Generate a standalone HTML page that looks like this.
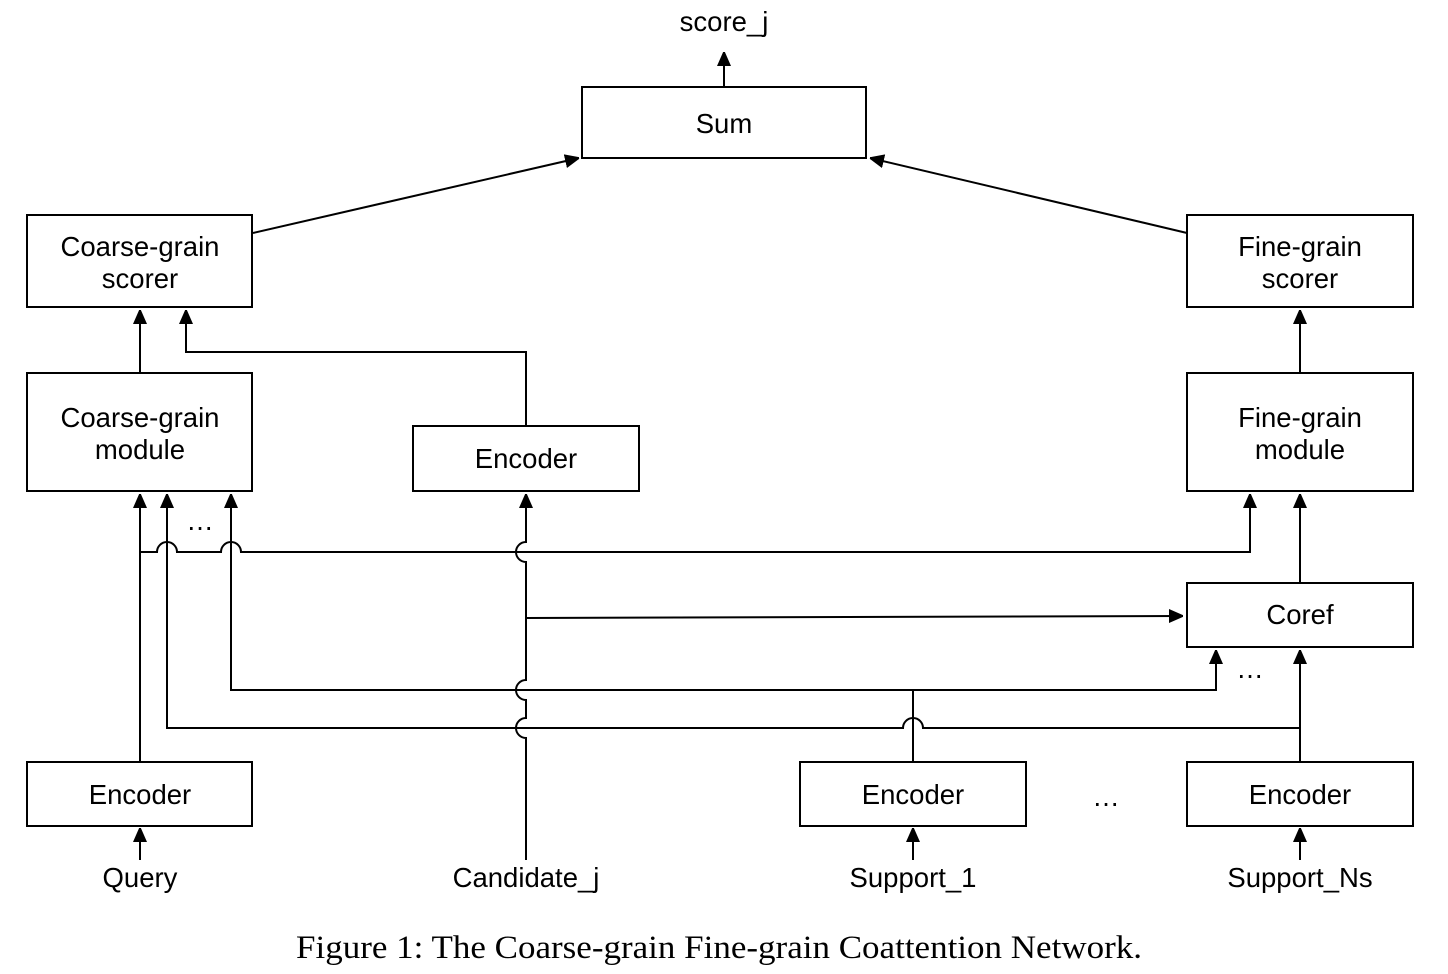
<!DOCTYPE html><html><head><style>body{margin:0;background:#fff}svg{display:block}
text{font-family:"Liberation Sans",sans-serif;font-size:27.5px;fill:#000}</style></head><body>
<svg width="1448" height="974" viewBox="0 0 1448 974">
<defs><marker id="a" markerWidth="14" markerHeight="16" refX="14" refY="7" orient="auto" markerUnits="userSpaceOnUse"><path d="M0,0 L16,7 L0,14z" fill="#000"/></marker></defs>
<g fill="none" stroke="#000" stroke-width="2">
<rect x="582" y="87" width="284" height="71"/>
<rect x="27" y="215" width="225" height="92"/>
<rect x="1187" y="215" width="226" height="92"/>
<rect x="27" y="373" width="225" height="118"/>
<rect x="1187" y="373" width="226" height="118"/>
<rect x="413" y="426" width="226" height="65"/>
<rect x="1187" y="583" width="226" height="64"/>
<rect x="27" y="762" width="225" height="64"/>
<rect x="800" y="762" width="226" height="64"/>
<rect x="1187" y="762" width="226" height="64"/>
<path d="M724,87V52" marker-end="url(#a)"/>
<path d="M253,233L579,158" marker-end="url(#a)"/>
<path d="M1187,233L870,158" marker-end="url(#a)"/>
<path d="M140,373V310" marker-end="url(#a)"/>
<path d="M526,426V352H186V310" marker-end="url(#a)"/>
<path d="M1300,373V310" marker-end="url(#a)"/>
<path d="M1300,583V494" marker-end="url(#a)"/>
<path d="M140,762V494" marker-end="url(#a)"/>
<path d="M167,552V494" marker-end="url(#a)"/>
<path d="M231,552V494" marker-end="url(#a)"/>
<path d="M140,552H157A10,10 0 0 1 177,552H221A10,10 0 0 1 241,552H1250V494" marker-end="url(#a)"/>
<path d="M526,860V738A10,10 0 0 1 526,718V700A10,10 0 0 1 526,680V562A10,10 0 0 1 526,542V494" marker-end="url(#a)"/>
<path d="M526,618L1183,616" marker-end="url(#a)"/>
<path d="M913,762V690"/>
<path d="M231,552V690H1216V650" marker-end="url(#a)"/>
<path d="M167,552V728H903A10,10 0 0 1 923,728H1300"/>
<path d="M1300,762V650" marker-end="url(#a)"/>
<path d="M140,860V828" marker-end="url(#a)"/>
<path d="M913,860V828" marker-end="url(#a)"/>
<path d="M1300,860V828" marker-end="url(#a)"/>
</g>
<g text-anchor="middle">
<text x="724" y="31">score_j</text>
<text x="724" y="133">Sum</text>
<text x="140" y="256">Coarse-grain</text><text x="140" y="288">scorer</text>
<text x="1300" y="256">Fine-grain</text><text x="1300" y="288">scorer</text>
<text x="140" y="427">Coarse-grain</text><text x="140" y="459">module</text>
<text x="1300" y="427">Fine-grain</text><text x="1300" y="459">module</text>
<text x="526" y="468">Encoder</text>
<text x="1300" y="624">Coref</text>
<text x="140" y="804">Encoder</text><text x="913" y="804">Encoder</text><text x="1300" y="804">Encoder</text>
<text x="200" y="530">…</text><text x="1106" y="806">…</text><text x="1250" y="678">…</text>
<text x="140" y="887">Query</text><text x="526" y="887">Candidate_j</text><text x="913" y="887">Support_1</text><text x="1300" y="887">Support_Ns</text>
<text x="719" y="958" textLength="846" lengthAdjust="spacingAndGlyphs" style="font-family:'Liberation Serif',serif;font-size:33px">Figure 1: The Coarse-grain Fine-grain Coattention Network.</text>
</g>
</svg></body></html>
